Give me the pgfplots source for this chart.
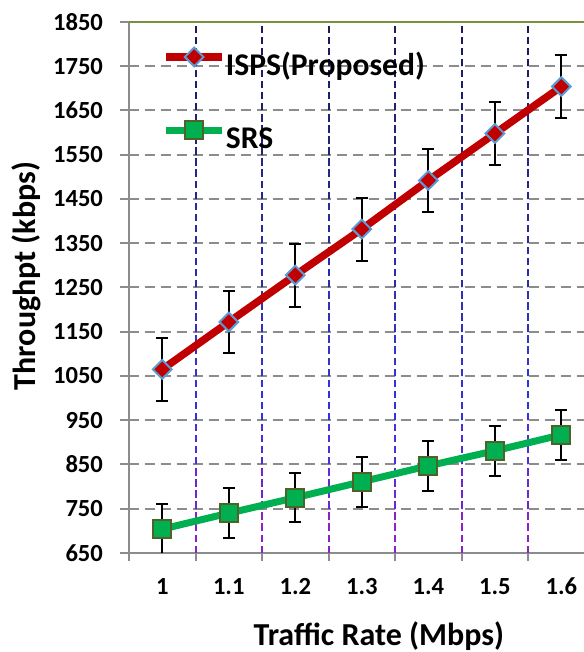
\documentclass[border=0pt]{standalone}
\usepackage{pgfplots}
\pgfplotsset{compat=1.18}
\usepackage{fontspec}
\setmainfont{Carlito}
\usetikzlibrary{calc}
\definecolor{ispsred}{HTML}{C00000}
\definecolor{markblue}{HTML}{5B9BD5}
\definecolor{srsgreen}{HTML}{00B050}
\definecolor{srsedge}{HTML}{4F6228}
\definecolor{axgray}{HTML}{8C8C8C}
\definecolor{gridgray}{HTML}{8C8C8C}
\definecolor{olivetop}{HTML}{77933C}
\definecolor{vc650}{HTML}{8A22C8}
\definecolor{vc750}{HTML}{6A28D4}
\definecolor{vc850}{HTML}{4A30DC}
\definecolor{vc950}{HTML}{3232DA}
\definecolor{vc1050}{HTML}{3434C8}
\definecolor{vc1150}{HTML}{3030B8}
\definecolor{vc1250}{HTML}{2C2CA8}
\definecolor{vc1350}{HTML}{2A2A98}
\definecolor{vc1450}{HTML}{262688}
\definecolor{vc1550}{HTML}{222278}
\definecolor{vc1650}{HTML}{1E1E6A}
\definecolor{vc1750}{HTML}{1A1A5E}
\newcommand\vseg[2]{\draw[vc#2, line width=1pt, dash pattern=on 3.7pt off 1.83pt] (axis cs:#1,#2) -- ++(axis direction cs:0,100);}
\newcommand\vfull[1]{\vseg{#1}{650}\vseg{#1}{750}\vseg{#1}{850}\vseg{#1}{950}\vseg{#1}{1050}\vseg{#1}{1150}\vseg{#1}{1250}\vseg{#1}{1350}\vseg{#1}{1450}\vseg{#1}{1550}\vseg{#1}{1650}\vseg{#1}{1750}}
\begin{document}
\begin{tikzpicture}
\begin{axis}[
  scale only axis, width=227.5pt, height=265.5pt,
  xmin=0.95, xmax=1.634, ymin=650, ymax=1850,
  axis x line=bottom, axis y line=left,
  axis line style={-, draw=axgray, line width=1pt},
  xtick={1,1.1,1.2,1.3,1.4,1.5,1.6},
  xticklabels={1,1.1,1.2,1.3,1.4,1.5,1.6},
  minor xtick={0.95,1.05,1.15,1.25,1.35,1.45,1.55},
  ytick={650,750,...,1850},
  tick align=outside,
  major tick length=4.5pt, minor tick length=4pt,
  major x tick style={draw=none},
  minor x tick style={draw=axgray, line width=1pt},
  major y tick style={draw=gridgray, line width=1pt},
  ymajorgrids, y grid style={gridgray, line width=1pt, dash pattern=on 5pt off 3pt},
  ticklabel style={font=\fontsize{12.3}{14}\selectfont\bfseries},
  /pgf/number format/assume math mode=true,
  /pgf/number format/1000 sep={},
  yticklabel style={xshift=-5pt},
  xticklabel style={anchor=base, yshift=-16pt},
  xlabel={Traffic Rate (Mbps)},
  xlabel style={at={(axis description cs:0.549,0)}, anchor=base, yshift=-46.3pt, font=\fontsize{16}{18}\selectfont\bfseries},
  ylabel={Throughpt (kbps)},
  ylabel style={at={(axis description cs:0,0.5)}, anchor=center, yshift=51.5pt, xshift=5.75pt, font=\fontsize{16}{18}\selectfont\bfseries},
  legend style={draw=none, fill=none, at={(axis cs:0.99963,1793)}, anchor=north west,
    inner sep=0pt, font=\fontsize{15.8}{18}\selectfont\bfseries,
    nodes={inner sep=0pt, text height=11pt, text depth=3pt},
    row sep=20pt, column sep=0pt, cells={anchor=west}},
  legend image code/.code={\draw[mark repeat=2,mark phase=2,#1] plot coordinates {(0pt,5.1pt) (14pt,5.1pt) (28pt,5.1pt)};},
]
\pgfplotsinvokeforeach{1.05,1.15,1.25,1.35,1.45,1.55}{\vfull{#1}}
\draw[olivetop, line width=1pt] (axis cs:0.95,1850) -- (axis cs:1.634,1850);
\addplot[color=ispsred, line width=3.75pt, mark=square*, mark size=3.3pt,
  mark options={rotate=45, fill=ispsred, draw=markblue, line width=1pt, solid},
  error bars/.cd, y dir=both, y explicit,
  error bar style={black, line width=1pt},
  error mark options={rotate=90, mark size=3pt, black, line width=1pt}]
  coordinates {
  (1,1065) +- (0,71)
  (1.1,1172) +- (0,71)
  (1.2,1278) +- (0,71)
  (1.3,1382) +- (0,71)
  (1.4,1492) +- (0,71)
  (1.5,1598) +- (0,71)
  (1.6,1704) +- (0,71)
  };
\addlegendentry{ISPS(Proposed)}
\addplot[color=srsgreen, line width=3.5pt, mark=square*, mark size=4.5pt,
  mark options={fill=srsgreen, draw=srsedge, line width=1pt, solid},
  error bars/.cd, y dir=both, y explicit,
  error bar style={black, line width=1pt},
  error mark options={rotate=90, mark size=3pt, black, line width=1pt}]
  coordinates {
  (1,704) +- (0,56)
  (1.1,740) +- (0,56)
  (1.2,775) +- (0,56)
  (1.3,811) +- (0,56)
  (1.4,847) +- (0,56)
  (1.5,881) +- (0,56)
  (1.6,917) +- (0,56)
  };
\addlegendentry{SRS}
\end{axis}
\pgfresetboundingbox
\path ($(current axis.south west)+(-64.5pt,-49.5pt)$) rectangle ($(current axis.north east)+(0pt,11pt)$);
\end{tikzpicture}
\end{document}
